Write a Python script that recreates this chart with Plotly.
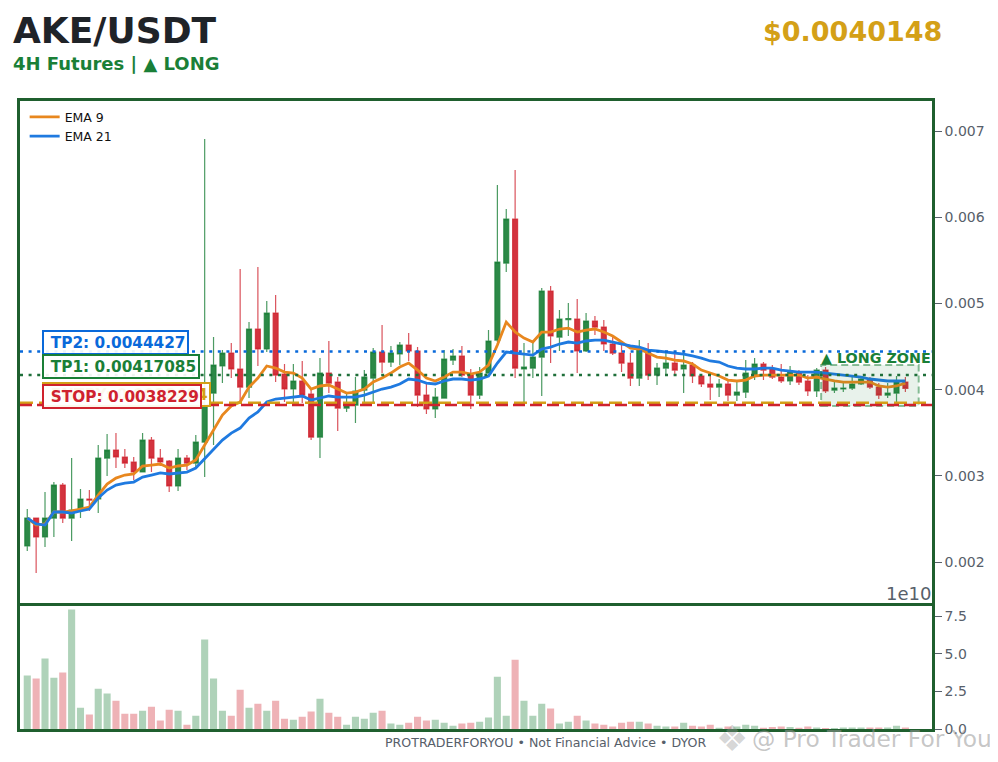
import numpy as np
import plotly.graph_objects as go
from plotly.subplots import make_subplots

# Prices below are in millionths of USDT
open_px = [2186, 2510, 2290, 2510, 2893, 2510, 2603, 2731, 2731, 3206, 3299, 3218, 3160, 3044, 3415, 3206, 3172, 2882, 3206, 3148,
           3392, 3960, 4274, 4424, 4239, 4030, 4703, 4471, 4888, 4181, 4007, 4100, 3949, 3450, 4192, 4088, 3786, 3821, 3995, 4134,
           4436, 4320, 4413, 4517, 4448, 3937, 3775, 3902, 4343, 4390, 4169, 3937, 4192, 4575, 5468, 5979, 4239, 4250, 4378, 5144,
           4610, 4813, 4819, 4448, 4796, 4726, 4529, 4424, 4308, 4134, 4459, 4169, 4250, 4308, 4239, 4285, 4158, 4065, 4030, 4065,
           3937, 3972, 4169, 4297, 4239, 4146, 4100, 4204, 4100, 3984, 4227, 3995, 4007, 4018, 4065, 4123, 4030, 3937, 3960, 4088]
high_px = [2615, 2510, 2812, 2928, 2916, 3206, 2847, 2835, 3357, 3485, 3496, 3311, 3218, 3496, 3450, 3311, 3183, 3311, 3241, 3473,
           6907, 4610, 4459, 4540, 5399, 4784, 5422, 5028, 5097, 4297, 4297, 4332, 4007, 4366, 4564, 4146, 3960, 4146, 4227, 4482,
           4749, 4506, 4552, 4656, 4494, 4065, 4018, 4459, 4471, 4506, 4239, 4262, 4691, 6373, 6095, 6547, 4540, 4540, 5179, 5202,
           4923, 5004, 5051, 4888, 4854, 4807, 4610, 4529, 4424, 4575, 4540, 4308, 4424, 4436, 4459, 4320, 4158, 4158, 4123, 4111,
           4111, 4343, 4366, 4320, 4285, 4297, 4274, 4227, 4169, 4250, 4262, 4111, 4076, 4146, 4134, 4146, 4076, 4076, 4158, 4146]
low_px = [2128, 1872, 2174, 2290, 2452, 2244, 2510, 2592, 2568, 2998, 3090, 3090, 2951, 3044, 3044, 3114, 2812, 2824, 3067, 3102,
          2986, 3357, 4076, 4134, 3856, 3902, 4274, 4436, 4088, 3856, 3856, 3844, 3415, 3206, 3960, 3520, 3740, 3612, 3844, 3844,
          4192, 4262, 4285, 4332, 3798, 3717, 3670, 3902, 4285, 4146, 3775, 3891, 4192, 4552, 5364, 4134, 3856, 4134, 3926, 4308,
          4448, 4622, 4192, 4436, 4633, 4448, 4401, 4204, 4042, 4042, 4111, 4053, 4169, 4169, 3960, 4076, 4030, 3879, 3914, 3868,
          3868, 3902, 4111, 4111, 4123, 4076, 4053, 4053, 3926, 3914, 3960, 3960, 3972, 3995, 4053, 4007, 3891, 3902, 3833, 3972]
close_px = [2510, 2290, 2510, 2893, 2510, 2603, 2731, 2719, 3206, 3299, 3218, 3148, 3044, 3415, 3206, 3160, 2882, 3206, 3148, 3392,
            3821, 4285, 4424, 4239, 4030, 4703, 4471, 4888, 4169, 4007, 4100, 3937, 3450, 4192, 4076, 3786, 3821, 3984, 4146, 4436,
            4320, 4424, 4517, 4448, 3937, 3775, 3914, 4355, 4390, 4169, 3937, 4192, 4564, 5480, 5979, 4250, 4262, 4378, 5144, 4622,
            4819, 4825, 4448, 4796, 4726, 4529, 4424, 4308, 4134, 4471, 4169, 4250, 4308, 4227, 4285, 4158, 4065, 4030, 4065, 3937,
            3972, 4192, 4297, 4227, 4146, 4100, 4204, 4088, 3984, 4227, 3984, 4018, 4018, 4065, 4123, 4030, 3937, 3960, 4088, 4015]
ema9_px = [2510, 2429, 2441, 2580, 2580, 2592, 2615, 2638, 2777, 2905, 2974, 3009, 3021, 3114, 3125, 3137, 3090, 3114, 3125, 3183,
           3357, 3531, 3705, 3810, 3856, 4030, 4134, 4274, 4250, 4204, 4192, 4134, 4007, 4042, 4053, 4007, 3960, 3972, 4007, 4088,
           4134, 4192, 4262, 4308, 4227, 4134, 4100, 4146, 4204, 4204, 4181, 4204, 4285, 4517, 4784, 4668, 4598, 4552, 4668, 4668,
           4703, 4714, 4668, 4691, 4703, 4668, 4622, 4552, 4482, 4471, 4424, 4378, 4366, 4343, 4332, 4297, 4227, 4192, 4158, 4111,
           4100, 4111, 4158, 4169, 4169, 4169, 4169, 4169, 4134, 4146, 4123, 4100, 4088, 4088, 4088, 4088, 4042, 4030, 4042, 4076]
ema21_px = [2510, 2441, 2429, 2580, 2580, 2568, 2592, 2615, 2742, 2835, 2893, 2916, 2928, 2986, 3009, 3033, 3021, 3033, 3044, 3090,
            3195, 3311, 3415, 3496, 3554, 3670, 3740, 3856, 3891, 3902, 3914, 3926, 3879, 3902, 3926, 3914, 3914, 3914, 3937, 3972,
            4007, 4030, 4065, 4123, 4111, 4076, 4065, 4100, 4123, 4123, 4111, 4123, 4158, 4308, 4436, 4424, 4413, 4401, 4471, 4494,
            4529, 4552, 4540, 4564, 4575, 4575, 4552, 4529, 4506, 4494, 4459, 4448, 4436, 4424, 4413, 4390, 4366, 4332, 4320, 4274,
            4250, 4239, 4239, 4250, 4250, 4227, 4215, 4204, 4204, 4204, 4192, 4181, 4169, 4158, 4146, 4123, 4111, 4100, 4100, 4100]

# Volume in units of 1e10
volume = [3.56, 3.36, 4.69, 3.42, 3.76, 7.96, 1.42, 0.96, 2.69, 2.36, 1.89, 1.02, 1.02, 1.22, 1.49, 0.56, 1.29, 1.22, 0.29, 0.89,
          5.96, 3.36, 1.22, 0.89, 2.62, 1.42, 1.69, 1.22, 1.89, 0.69, 0.62, 0.82, 1.16, 2.02, 1.09, 0.82, 0.29, 0.82, 0.69, 1.09,
          1.22, 0.36, 0.29, 0.42, 0.82, 0.56, 0.62, 0.42, 0.22, 0.36, 0.42, 0.49, 0.76, 3.49, 0.89, 4.62, 1.89, 0.89, 1.69, 1.36,
          0.36, 0.49, 0.89, 0.56, 0.36, 0.29, 0.16, 0.42, 0.49, 0.49, 0.36, 0.22, 0.16, 0.16, 0.42, 0.22, 0.16, 0.29, 0.09, 0.16,
          0.16, 0.29, 0.22, 0.09, 0.13, 0.16, 0.13, 0.09, 0.16, 0.10, 0.07, 0.07, 0.10, 0.10, 0.10, 0.10, 0.10, 0.10, 0.22, 0.10]

tp2 = 0.0044427
tp1 = 0.00417085
entry = 0.0038484
stop = 0.0038229
zone_low = 0.00381
zone_high = 0.004285
last_price = "$0.0040148"

GREEN = "#1a7f37"
RED = "#cf222e"
BLUE = "#0969da"
GOLD = "#d4a017"
SPINE = "#1f5f2e"
GREY = "#57606a"

x = list(range(len(open_px)))
o, h, l, c = [np.array(a) / 1e6 for a in (open_px, high_px, low_px, close_px)]

fig = make_subplots(rows=2, cols=1, shared_xaxes=True, vertical_spacing=0, row_heights=[0.8, 0.2])

# Candles
fig.add_trace(go.Candlestick(
    x=x, open=o, high=h, low=l, close=c, showlegend=False, whiskerwidth=0,
    increasing=dict(line=dict(color="rgba(26,127,55,0.78)", width=1.2), fillcolor="rgba(26,127,55,0.92)"),
    decreasing=dict(line=dict(color="rgba(207,34,46,0.78)", width=1.2), fillcolor="rgba(207,34,46,0.92)"),
), row=1, col=1)

# EMAs
fig.add_trace(go.Scatter(x=x, y=np.array(ema9_px) / 1e6, mode="lines", name="EMA 9",
                         line=dict(color="#e8871e", width=2.8)), row=1, col=1)
fig.add_trace(go.Scatter(x=x, y=np.array(ema21_px) / 1e6, mode="lines", name="EMA 21",
                         line=dict(color="#1f7ae0", width=2.8)), row=1, col=1)

# Volume
bar_colors = ["rgba(26,127,55,0.35)" if cl >= op else "rgba(207,34,46,0.35)" for op, cl in zip(open_px, close_px)]
fig.add_trace(go.Bar(x=x, y=volume, marker=dict(color=bar_colors, line_width=0), width=0.8, showlegend=False), row=2, col=1)

# Long zone
fig.add_shape(type="rect", xref="x", yref="y", x0=89.5, x1=100.5, y0=zone_low, y1=zone_high,
              fillcolor="rgba(26,127,55,0.10)", line=dict(color="rgba(26,127,55,0.5)", width=2, dash="7px,4px"))

# Trade levels
levels = [(tp2, BLUE, "3px,5.6px"), (tp1, "#1f6f3a", "3px,5.6px"), (entry, GOLD, "13px,6px"), (stop, RED, "12px,5px")]
for value, color, dash in levels:
    fig.add_shape(type="line", xref="x domain", yref="y", x0=0, x1=1, y0=value, y1=value,
                  line=dict(color=color, width=2.5, dash=dash))

labels = [(f"TP2: {tp2}", BLUE, tp2, 9), (f"TP1: {tp1}", GREEN, tp1, 8.5),
          (f"ENTRY: {entry}", GOLD, entry, 8), (f"STOP: {stop}", RED, stop, 8)]
for text, color, value, shift in labels:
    fig.add_annotation(x=1.63, y=value, xref="x", yref="y", text=f"<b>\u00a0{text}</b>", showarrow=False,
                       xanchor="left", yanchor="middle", yshift=shift, align="left",
                       font=dict(size=15.3, color=color), bgcolor="rgba(255,255,255,0.92)",
                       bordercolor=color, borderwidth=2, borderpad=1.5)

fig.add_annotation(x=89.3, y=zone_high, xref="x", yref="y", text="<b>▲ LONG ZONE</b>", showarrow=False,
                   xanchor="left", yanchor="bottom", yshift=-3, font=dict(size=14.3, color=GREEN))

# Header, footer and watermark, placed by page pixel
header = [
    ("<b>AKE/USDT</b>", 11, 30, 36, "#1f2328", "left"),
    ("<b>4H Futures | ▲ LONG</b>", 11, 64, 18, GREEN, "left"),
    (f"<b>{last_price}</b>", 944, 32, 27, GOLD, "right"),
    ("1e10", 933, 593, 18, GREY, "right"),
    ("PROTRADERFORYOU • Not Financial Advice • DYOR", 546, 742, 12.6, GREY, "center"),
    ("@ Pro Trader For You", 750, 738, 23.3, "rgba(150,150,150,0.55)", "left"),
    ("❖", 732, 738, 36, "rgba(150,150,150,0.4)", "center"),
]
for text, px, py, size, color, anchor in header:
    fig.add_annotation(x=(px - 20.25) / 911.75, y=(729 - py) / 628, xref="paper", yref="paper", text=text, showarrow=False,
                       xanchor=anchor, yanchor="middle", font=dict(size=size, color=color))

# The page body has an 8px margin, so the figure is 8px smaller each way
fig.update_layout(
    width=990, height=754,
    margin=dict(l=12.25, r=66, t=93, b=33),
    template="plotly_white",
    font=dict(family="DejaVu Sans", size=13, color=GREY),
    plot_bgcolor="white", paper_bgcolor="white",
    boxgap=0.2, bargap=0.2,
    showlegend=True,
    legend=dict(x=0.0051, y=0.998, xanchor="left", yanchor="top", bgcolor="rgba(255,255,255,0)",
                font=dict(size=12.5, color="#111111"), itemwidth=30, tracegroupgap=0),
    hovermode=False,
)
axis_style = dict(showline=True, mirror=True, linecolor=SPINE, linewidth=2.5, showgrid=False, zeroline=False, automargin=False)
fig.update_xaxes(range=[-0.82, 102], showticklabels=False, ticks="", rangeslider_visible=False, **axis_style)
fig.update_xaxes(mirror=False, row=2, col=1)
fig.update_yaxes(side="right", ticks="outside", ticklen=7, tickcolor=GREY, tickfont=dict(size=14, color=GREY), **axis_style)
fig.update_yaxes(range=[0.00152, 0.007348], tickvals=[0.002, 0.003, 0.004, 0.005, 0.006, 0.007], tickformat=".3f", row=1, col=1)
fig.update_yaxes(range=[0, 8.37], tickvals=[0, 2.5, 5, 7.5], tickformat=".1f", row=2, col=1)

fig.write_html("out.html")
